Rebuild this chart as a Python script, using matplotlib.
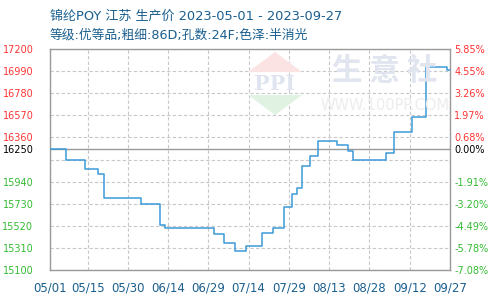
import matplotlib
matplotlib.use("Agg")
import matplotlib.pyplot as plt
from matplotlib.patches import Polygon
import pandas as pd

plt.rcParams['font.family'] = ['Noto Sans CJK SC', 'DejaVu Sans']

# ---- data ----
change_dates = ['2023-05-01', '2023-05-07', '2023-05-14', '2023-05-19', '2023-05-21',
                '2023-06-04', '2023-06-11', '2023-06-13', '2023-07-01', '2023-07-05',
                '2023-07-09', '2023-07-13', '2023-07-19', '2023-07-23', '2023-07-27',
                '2023-07-30', '2023-08-01', '2023-08-03', '2023-08-06', '2023-08-09',
                '2023-08-16', '2023-08-20', '2023-08-22', '2023-09-03', '2023-09-06',
                '2023-09-13', '2023-09-18', '2023-09-26', '2023-09-27']
prices = [16250, 16150, 16060, 16010, 15780,
          15730, 15530, 15500, 15440, 15360,
          15285, 15330, 15450, 15500, 15700,
          15820, 15880, 16085, 16180, 16330,
          16290, 16230, 16150, 16210, 16410,
          16550, 17030, 17000, 17000]
price_ticks = [15100, 15310, 15520, 15730, 15940, 16150, 16360, 16570, 16780, 16990, 17200]
hidden_tick = 16150
base_price = 16250
x_tick_dates = ['2023-05-01', '2023-05-15', '2023-05-30', '2023-06-14', '2023-06-29',
                '2023-07-14', '2023-07-29', '2023-08-13', '2023-08-28', '2023-09-12', '2023-09-27']
x_tick_labels = ['05/01', '05/15', '05/30', '06/14', '06/29', '07/14', '07/29',
                 '08/13', '08/28', '09/12', '09/27']
title1 = '锦纶POY 江苏 生产价 2023-05-01 - 2023-09-27'
title2 = '等级:优等品;粗细:86D;孔数:24F;色泽:半消光'

x = pd.to_datetime(change_dates)
xt = pd.to_datetime(x_tick_dates)

fig = plt.figure(figsize=(5, 3), dpi=100, facecolor='white')
ax = fig.add_axes([0.1, 0.1, 0.8, 251 / 300 - 0.1])

RED = '#ff3333'
GREEN = '#33bb33'
BLUE_TXT = '#1a5f8f'
TITLE_FONT = ['DejaVu Sans', 'Noto Sans CJK SC']

# watermark
fig.patches.append(Polygon([[275 / 500, 1 - 52 / 300], [302 / 500, 1 - 72 / 300],
                            [248 / 500, 1 - 72 / 300]], closed=True,
                           transform=fig.transFigure, facecolor='#fbe3e3', edgecolor='none', zorder=0))
fig.patches.append(Polygon([[275 / 500, 1 - 115 / 300], [302 / 500, 1 - 95 / 300],
                            [248 / 500, 1 - 95 / 300]], closed=True,
                           transform=fig.transFigure, facecolor='#e0f3e3', edgecolor='none', zorder=0))
fig.text(275 / 500, 1 - 84 / 300, 'PPI', ha='center', va='center', fontsize=15,
         fontweight='bold', color='#dfe4f0', family=['DejaVu Serif'], zorder=0)
fig.text(385 / 500, 1 - 71 / 300, '生 意 社', ha='center', va='center', fontsize=22,
         fontweight='bold', color='#e1e5ef', zorder=0)
fig.text(385 / 500, 1 - 106 / 300, 'WWW.100PP.COM', ha='center', va='center', fontsize=10.5,
         color='#ececec', family=['DejaVu Sans'], zorder=0)
ax.patch.set_alpha(0)

# grid lines
for v in price_ticks:
    ax.axhline(v, color='#c8c8c8', lw=0.8, ls=(0, (3, 2)), zorder=1)
for d in xt:
    ax.axvline(d, color='#c8c8c8', lw=0.8, ls=(0, (3, 2)), zorder=1)
ax.axhline(base_price, color='#999999', lw=1.0, zorder=2)

ax.plot(x, prices, drawstyle='steps-post', color='#3a9ad9', lw=1.1, zorder=3)

ax.set_xlim(xt[0], xt[-1])
ax.set_ylim(price_ticks[0], price_ticks[-1])

for s in ax.spines.values():
    s.set_color('#999999')
    s.set_linewidth(1.0)

ax.set_xticks(xt)
ax.set_xticklabels(x_tick_labels, color=BLUE_TXT, fontsize=8.5, family=['DejaVu Sans'])
ax.tick_params(axis='x', length=0, pad=8)

yt = price_ticks + [base_price]
ax.set_yticks(yt)
ylabels = ['' if v == hidden_tick else str(v) for v in yt]
ax.set_yticklabels(ylabels, fontsize=7, family=['DejaVu Sans'])
ax.tick_params(axis='y', length=0, pad=12)
for lbl, v in zip(ax.get_yticklabels(), yt):
    lbl.set_color('black' if v == base_price else (RED if v > base_price else GREEN))

ax2 = ax.twinx()
ax2.set_ylim(ax.get_ylim())
ax2.set_yticks(yt)
pct = ['' if v == hidden_tick else '%.2f%%' % ((v - base_price) / base_price * 100) for v in yt]
ax2.set_yticklabels(pct, fontsize=7, family=['DejaVu Sans'])
ax2.tick_params(axis='y', length=0, pad=3)
for lbl, v in zip(ax2.get_yticklabels(), yt):
    lbl.set_color('black' if v == base_price else (RED if v > base_price else GREEN))
for s in ax2.spines.values():
    s.set_visible(False)

fig.text(50 / 500, 1 - 16 / 300, title1, ha='left', va='center', fontsize=9.4,
         color=BLUE_TXT, family=TITLE_FONT)
fig.text(50 / 500, 1 - 35 / 300, title2, ha='left', va='center', fontsize=9.2,
         color=BLUE_TXT, family=TITLE_FONT)

fig.savefig('out.png', dpi=100, facecolor='white')
